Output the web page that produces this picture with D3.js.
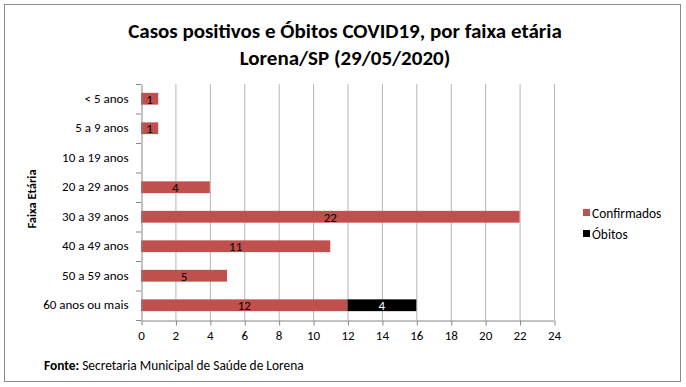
<!DOCTYPE html>
<html><head><meta charset="utf-8">
<script src="https://cdn.jsdelivr.net/npm/d3@7"></script>
<style>body{margin:0;background:#fff}svg{font-family:Carlito,Calibri,Lato,"Open Sans",sans-serif}</style>
</head><body><svg id="c" width="686" height="387"></svg>
<script>
const categories = ["< 5 anos","5 a 9 anos","10 a 19 anos","20 a 29 anos","30 a 39 anos","40 a 49 anos","50 a 59 anos","60 anos ou mais"];
const confirmados = [1,1,0,4,22,11,5,12];
const obitos = [0,0,0,0,0,0,0,4];
const xTicks = [0,2,4,6,8,10,12,14,16,18,20,22,24];
const seriesNames = ["Confirmados","Óbitos"];
const colors = ["#C0504D","#000000"];

const svg = d3.select("#c");
svg.append("rect").attr("x",4.5).attr("y",4.5).attr("width",676).attr("height",377).attr("fill","#fff").attr("stroke","#8c8c8c");

const x = d3.scaleLinear().domain([0,24]).range([141,554]);
const y = d3.scaleBand().domain(categories).range([84,320]).paddingInner(0.6).paddingOuter(0.3);
const yb = d3.scaleBand().domain(categories).range([84,320]);

// gridlines
svg.append("g").selectAll("line").data(xTicks.slice(1)).join("line")
  .attr("x1",d=>x(d)+0.5).attr("x2",d=>x(d)+0.5).attr("y1",84).attr("y2",320).attr("stroke","#b5b5b5");

const stacked = categories.map((c,i)=>({c, parts:[{s:0,x0:0,x1:confirmados[i],v:confirmados[i]},{s:1,x0:confirmados[i],x1:confirmados[i]+obitos[i],v:obitos[i]}]}));
const g = svg.append("g");
stacked.forEach(d=>{
  d.parts.forEach(p=>{
    if(!p.v) return;
    g.append("rect").attr("x",x(p.x0)).attr("y",y(d.c)).attr("width",x(p.x1)-x(p.x0)).attr("height",y.bandwidth()).attr("fill",colors[p.s]);
    g.append("text").attr("x",(x(p.x0)+x(p.x1))/2).attr("y",y(d.c)+y.bandwidth()/2+5).attr("text-anchor","middle")
      .attr("font-size",13).attr("fill",p.s===1?"#fff":"#000").text(p.v);
  });
});

// axes
const xa = svg.append("g").attr("transform","translate(0,320.5)").call(d3.axisBottom(x).tickValues(xTicks).tickSize(5).tickSizeOuter(0));
xa.select(".domain").attr("stroke","#868686");
xa.selectAll(".tick line").attr("stroke","#868686").attr("transform","translate(0.5,0)");
xa.selectAll("text").attr("font-size",13).attr("font-family","Carlito,Calibri,Lato,sans-serif").attr("fill","#000").attr("dy","0.85em");

const ya = svg.append("g").attr("transform","translate(141.5,0)").call(d3.axisLeft(yb).tickSize(0).tickPadding(13));
ya.select(".domain").attr("stroke","#868686");
ya.selectAll("text").attr("font-size",13).attr("font-family","Carlito,Calibri,Lato,sans-serif").attr("fill","#000");
svg.append("g").selectAll("line").data(d3.range(9)).join("line")
  .attr("x1",136).attr("x2",141).attr("y1",i=>84+i*yb.step()+0.5).attr("y2",i=>84+i*yb.step()+0.5).attr("stroke","#868686");

// titles
svg.append("text").attr("x",345).attr("y",38).attr("text-anchor","middle").attr("font-size",21).attr("font-weight","bold").text("Casos positivos e Óbitos COVID19, por faixa etária");
svg.append("text").attr("x",345).attr("y",65).attr("text-anchor","middle").attr("font-size",21).attr("font-weight","bold").text("Lorena/SP (29/05/2020)");
svg.append("text").attr("transform","translate(36,199) rotate(-90)").attr("text-anchor","middle").attr("font-size",12.5).attr("font-weight","bold").text("Faixa Etária");

// legend
seriesNames.forEach((n,i)=>{
  svg.append("rect").attr("x",583).attr("y",209+i*21).attr("width",7).attr("height",7).attr("fill",colors[i]);
  svg.append("text").attr("x",592).attr("y",217.5+i*21).attr("font-size",13.4).text(n);
});

// footer
const f = svg.append("text").attr("x",44).attr("y",370).attr("font-size",13.4);
f.append("tspan").attr("font-weight","bold").text("Fonte:");
f.append("tspan").text(" Secretaria Municipal de Saúde de Lorena");
</script></body></html>
